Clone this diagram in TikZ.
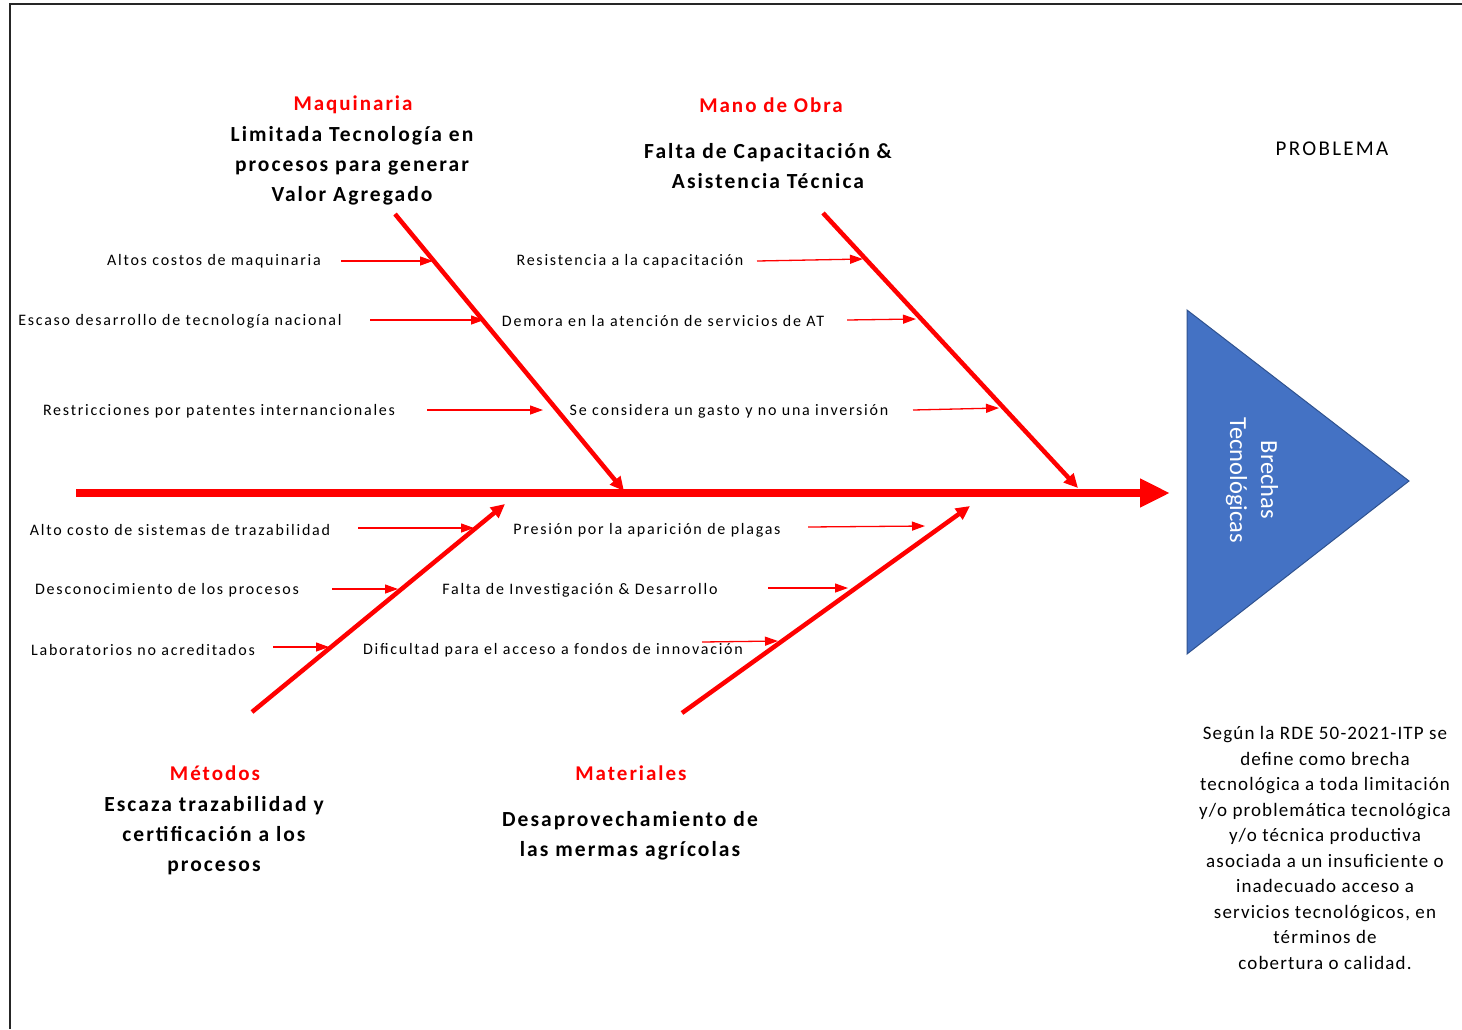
\documentclass[tikz,border=0pt]{standalone}
\usepackage{fontspec}
\setmainfont{Carlito}
\newfontfamily\spaced[LetterSpace=11]{Carlito}
\newfontfamily\spacedb[LetterSpace=9.5]{Carlito}
\newfontfamily\spacedn[LetterSpace=6]{Carlito}
\usetikzlibrary{arrows.meta}
\definecolor{brecha}{HTML}{4472C4}
\definecolor{brechaborde}{HTML}{2F528F}
\tikzset{
  spine/.style={red, line width=8.5pt, -{Triangle[length=30pt,width=27pt]}},
  bone/.style={red, line width=4.5pt, -{Triangle[length=14pt,width=13pt]}},
  cause/.style={red, line width=1.3pt, -{Triangle[length=13pt,width=9pt]}},
  causetext/.style={inner sep=0pt, font=\spaced\fontsize{16}{18}\selectfont},
  category/.style={red, inner sep=0pt, font=\spacedb\bfseries\fontsize{21}{25}\selectfont},
  effect/.style={align=center, inner sep=0pt, font=\spacedb\bfseries\fontsize{21.5}{30}\selectfont},
}
\begin{document}
\begin{tikzpicture}[x=1pt, y=-1pt]
    \useasboundingbox (0,0) rectangle (1462,1029);
    \draw[line width=2pt, black!85] (1462,3.5) -- (9.5,3.5) -- (9.5,1029);
    % espina y cabeza
    \coordinate (cola) at (76,493);
    \coordinate (cabeza) at (1170,493);
    \draw[spine] (cola) -- (cabeza);
    \draw[fill=brecha, draw=brechaborde, line width=1pt] (1187,310) -- (1409,481) -- (1187,654) -- cycle;
    \node[rotate=-90, white, align=center, font=\fontsize{24.5}{31}\selectfont] (brecha) at (1252,480) {Brechas\\Tecnológicas};
    \node[font=\spaced\fontsize{21}{22}\selectfont] (problema) at (1332,149) {PROBLEMA};
    \node[align=center, inner sep=0pt, font=\spacedn\fontsize{19}{25.5}\selectfont] (nota) at (1325,848) {Según la RDE 50-2021-ITP se\\define como brecha\\tecnológica a toda limitación\\y/o problemática tecnológica\\y/o técnica productiva\\asociada a un insuficiente o\\inadecuado acceso a\\servicios tecnológicos, en\\términos de\\cobertura o calidad.};
    % espinas
    \coordinate (maq0) at (395,214);
    \coordinate (maq1) at (624,491);
    \coordinate (obr0) at (823,213);
    \coordinate (obr1) at (1078,488);
    \coordinate (met0) at (252,712);
    \coordinate (met1) at (505,504);
    \coordinate (mat0) at (682,713);
    \coordinate (mat1) at (970,506);
    \draw[bone] (maq0) -- (maq1);
    \draw[bone] (obr0) -- (obr1);
    \draw[bone] (met0) -- (met1);
    \draw[bone] (mat0) -- (mat1);
    % categorias
    \node[category] (maq) at (353,105) {Maquinaria};
    \node[effect] (maqtxt) at (352,166) {Limitada Tecnología en\\procesos para generar\\Valor Agregado};
    \node[category] (obr) at (771,105) {Mano de Obra};
    \node[effect] (obrtxt) at (768,166) {Falta de Capacitación \&\\Asistencia Técnica};
    \node[category] (met) at (215,773) {Métodos};
    \node[effect] (mettxt) at (214,836) {Escaza trazabilidad y\\certificación a los\\procesos};
    \node[category] (mat) at (631,773) {Materiales};
    \node[effect] (mattxt) at (630,836) {Desaprovechamiento de\\las mermas agrícolas};
    % causas
    \node[causetext] (c1) at (214,261) {Altos costos de maquinaria};
    \node[causetext] (c2) at (180,321) {Escaso desarrollo de tecnología nacional};
    \node[causetext] (c3) at (219,411) {Restricciones por patentes internancionales};
    \node[causetext] (c4) at (630,261) {Resistencia a la capacitación};
    \node[causetext] (c5) at (663,321) {Demora en la atención de servicios de AT};
    \node[causetext] (c6) at (729,411) {Se considera un gasto y no una inversión};
    \node[causetext] (c7) at (180,530) {Alto costo de sistemas de trazabilidad};
    \node[causetext] (c8) at (167,590) {Desconocimiento de los procesos};
    \node[causetext] (c9) at (143,650) {Laboratorios no acreditados};
    \node[causetext] (c10) at (647,530) {Presión por la aparición de plagas};
    \node[causetext] (c11) at (580,590) {Falta de Investigación \& Desarrollo};
    \node[causetext] (c12) at (553,650) {Dificultad para el acceso a fondos de innovación};
    \coordinate (a1) at (341,261);  \coordinate (b1) at (433,261);
    \coordinate (a2) at (370,320);  \coordinate (b2) at (484,320);
    \coordinate (a3) at (427,410);  \coordinate (b3) at (543,410);
    \coordinate (a4) at (757,261);  \coordinate (b4) at (863,259);
    \coordinate (a5) at (847,320);  \coordinate (b5) at (916,319);
    \coordinate (a6) at (913,410);  \coordinate (b6) at (999,408);
    \coordinate (a7) at (358,528);  \coordinate (b7) at (474,528);
    \coordinate (a8) at (332,589);  \coordinate (b8) at (398,589);
    \coordinate (a9) at (273,647);  \coordinate (b9) at (329,647);
    \coordinate (a10) at (808,527); \coordinate (b10) at (925,526);
    \coordinate (a11) at (768,588); \coordinate (b11) at (848,588);
    \coordinate (a12) at (702,642); \coordinate (b12) at (778,641);
    \draw[cause] (a1) -- (b1);
    \draw[cause] (a2) -- (b2);
    \draw[cause] (a3) -- (b3);
    \draw[cause] (a4) -- (b4);
    \draw[cause] (a5) -- (b5);
    \draw[cause] (a6) -- (b6);
    \draw[cause] (a7) -- (b7);
    \draw[cause] (a8) -- (b8);
    \draw[cause] (a9) -- (b9);
    \draw[cause] (a10) -- (b10);
    \draw[cause] (a11) -- (b11);
    \draw[cause] (a12) -- (b12);
\end{tikzpicture}
\end{document}
